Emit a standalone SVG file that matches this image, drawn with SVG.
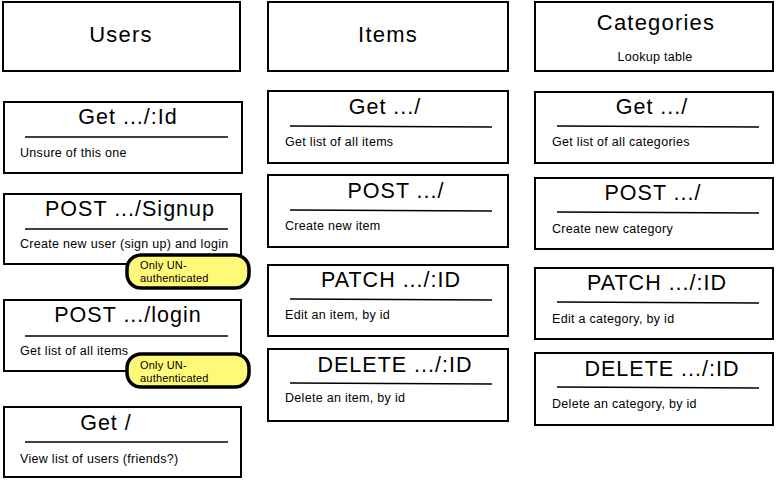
<svg xmlns="http://www.w3.org/2000/svg" width="776" height="480" viewBox="0 0 776 480">
<style>
.box{fill:#fff;stroke:#000;stroke-width:2}
.hr{stroke:#000;stroke-width:1.4}
.h1{font-family:"Liberation Sans",Arial,sans-serif;font-size:22px;letter-spacing:1.2px;text-anchor:middle;fill:#000}
.t{font-family:"Liberation Sans",Arial,sans-serif;font-size:21.5px;letter-spacing:1px;text-anchor:middle;fill:#000}
.d{font-family:"Liberation Sans",Arial,sans-serif;font-size:12.5px;letter-spacing:0.3px;fill:#000}
.note{fill:#fff97a;stroke:#000;stroke-width:3.5}
.nt{font-family:"Liberation Sans",Arial,sans-serif;font-size:11px;letter-spacing:0.2px;fill:#000}
</style>
<defs>
<clipPath id="c1"><rect x="5" y="195" width="224" height="68"/></clipPath>
</defs>
<rect width="776" height="480" fill="#fff"/>

<g id="users-header"><rect class="box" x="3" y="2" width="237" height="69"/><text class="h1" x="121" y="42">Users</text></g>
<g id="users-get-id"><rect class="box" x="4" y="102" width="238" height="71"/><text class="t" x="128" y="124">Get .../:Id</text><line class="hr" x1="25" y1="137" x2="228" y2="137"/><text class="d" x="20" y="157">Unsure of this one</text></g>
<g id="users-signup"><rect class="box" x="4" y="194" width="237" height="70"/><text class="t" x="130" y="216">POST .../Signup</text><line class="hr" x1="25" y1="229" x2="228" y2="229"/><text class="d" x="20" y="248" clip-path="url(#c1)">Create new user (sign up) and login</text></g>
<g id="users-login"><rect class="box" x="4" y="300" width="237" height="71"/><text class="t" x="128" y="322">POST .../login</text><line class="hr" x1="25" y1="336" x2="228" y2="336"/><text class="d" x="20" y="355">Get list of all items</text></g>
<g id="users-get"><rect class="box" x="4" y="407" width="237" height="70"/><text class="t" x="106" y="430">Get /</text><line class="hr" x1="25" y1="442" x2="228" y2="442"/><text class="d" x="20" y="463">View list of users (friends?)</text></g>
<g id="note-signup"><rect class="note" x="127" y="255" width="122" height="33" rx="14"/><text class="nt" x="140" y="269">Only UN-</text><text class="nt" x="140" y="282">authenticated</text></g>
<g id="note-login"><rect class="note" x="127" y="354" width="122" height="33" rx="14"/><text class="nt" x="140" y="369">Only UN-</text><text class="nt" x="140" y="382">authenticated</text></g>

<g id="items-header"><rect class="box" x="268" y="2" width="240" height="69"/><text class="h1" x="388" y="42">Items</text></g>
<g id="items-get"><rect class="box" x="268" y="91" width="240" height="72"/><text class="t" x="385" y="114">Get .../</text><line class="hr" x1="290" y1="126" x2="492" y2="127"/><text class="d" x="285" y="146">Get list of all items</text></g>
<g id="items-post"><rect class="box" x="268" y="175" width="240" height="72"/><text class="t" x="396" y="198">POST .../</text><line class="hr" x1="290" y1="210" x2="492" y2="211"/><text class="d" x="285" y="230">Create new item</text></g>
<g id="items-patch"><rect class="box" x="268" y="265" width="240" height="71"/><text class="t" x="391" y="287">PATCH .../:ID</text><line class="hr" x1="290" y1="299" x2="492" y2="300"/><text class="d" x="285" y="319">Edit an item, by id</text></g>
<g id="items-delete"><rect class="box" x="268" y="349" width="240" height="72"/><text class="t" x="395" y="372">DELETE .../:ID</text><line class="hr" x1="290" y1="383" x2="492" y2="384"/><text class="d" x="285" y="402">Delete an item, by id</text></g>

<g id="categories-header"><rect class="box" x="535" y="2" width="238" height="69"/><text class="h1" x="656" y="30">Categories</text><text class="d" x="655" y="61" text-anchor="middle">Lookup table</text></g>
<g id="categories-get"><rect class="box" x="535" y="92" width="238" height="71"/><text class="t" x="652" y="114">Get .../</text><line class="hr" x1="557" y1="126" x2="759" y2="127"/><text class="d" x="552" y="146">Get list of all categories</text></g>
<g id="categories-post"><rect class="box" x="535" y="178" width="238" height="71"/><text class="t" x="653" y="200">POST .../</text><line class="hr" x1="557" y1="212" x2="759" y2="213"/><text class="d" x="552" y="233">Create new category</text></g>
<g id="categories-patch"><rect class="box" x="535" y="268" width="238" height="71"/><text class="t" x="657" y="290">PATCH .../:ID</text><line class="hr" x1="557" y1="302" x2="759" y2="303"/><text class="d" x="552" y="323">Edit a category, by id</text></g>
<g id="categories-delete"><rect class="box" x="535" y="353" width="238" height="72"/><text class="t" x="662" y="376">DELETE .../:ID</text><line class="hr" x1="557" y1="387" x2="759" y2="388"/><text class="d" x="552" y="408">Delete an category, by id</text></g>

<g id="connectors"></g>
</svg>
